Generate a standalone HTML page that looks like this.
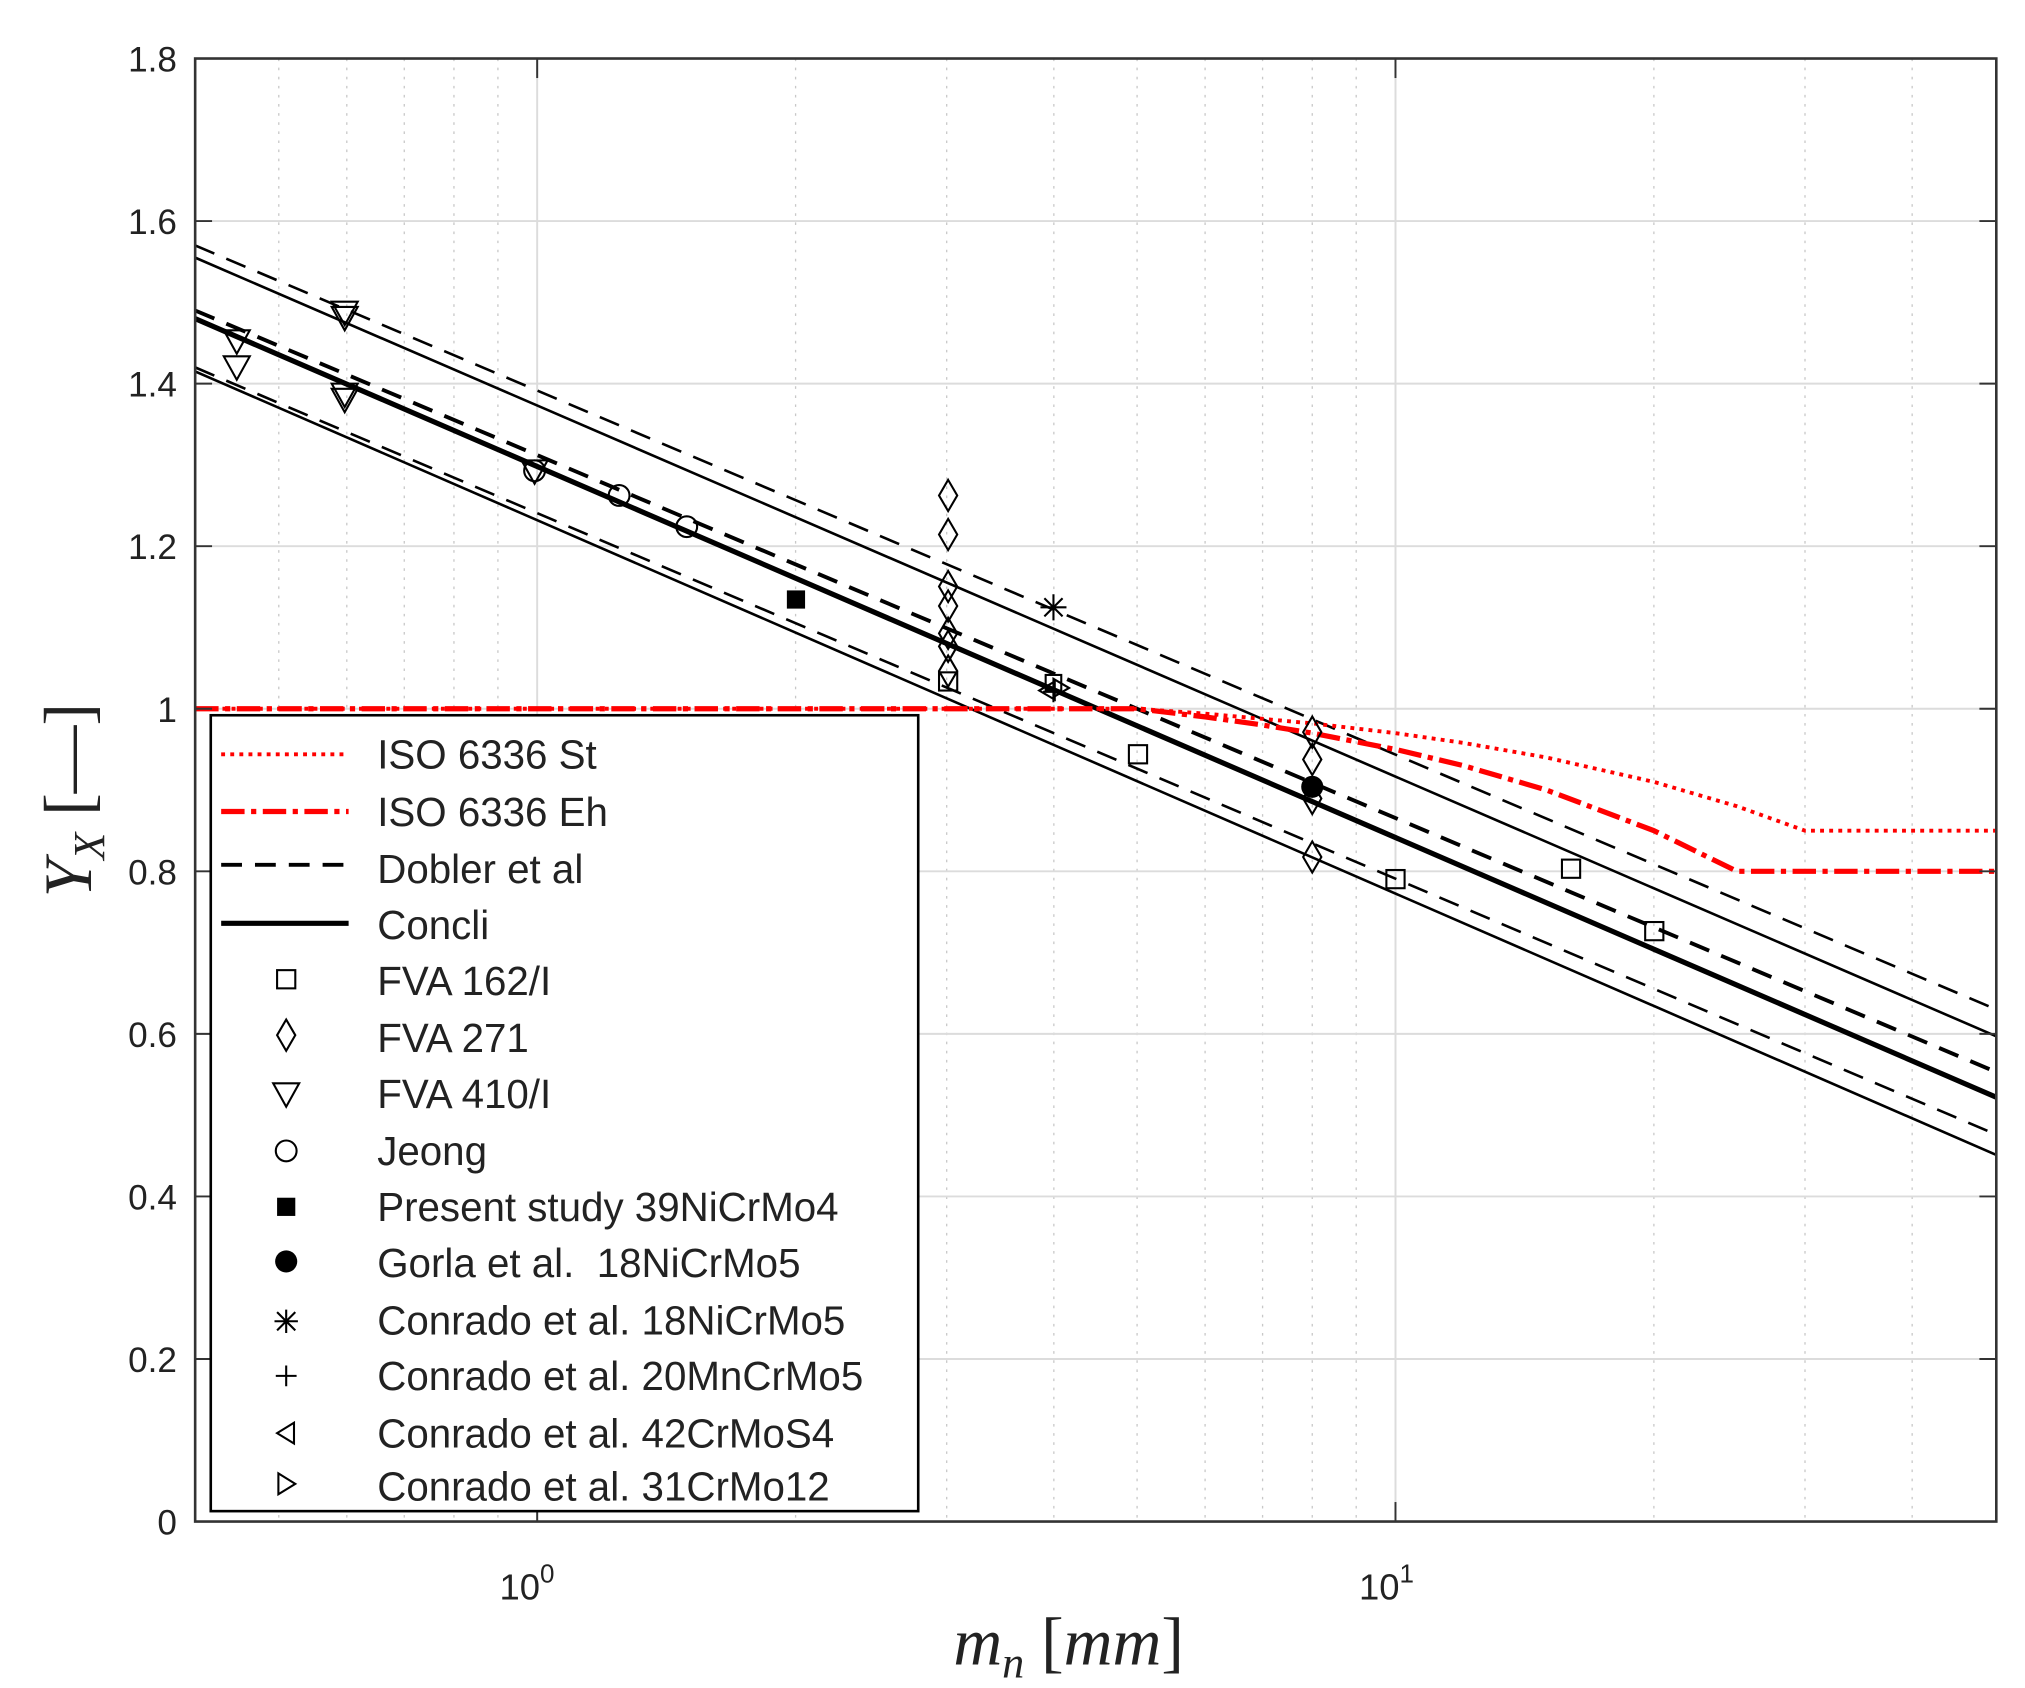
<!DOCTYPE html>
<html><head><meta charset="utf-8"><style>
html,body{margin:0;padding:0;background:#fff}
svg{display:block}
text{font-family:"Liberation Sans",sans-serif;fill:#222}
</style></head><body>
<svg width="2025" height="1688" viewBox="0 0 1557 1298" xmlns="http://www.w3.org/2000/svg">
<rect width="1557" height="1298" fill="#fff"/>
<g stroke="#c8c8c8" stroke-width="1" stroke-dasharray="2,5">
<line x1="214.3" y1="45" x2="214.3" y2="1170"/><line x1="266.6" y1="45" x2="266.6" y2="1170"/><line x1="310.8" y1="45" x2="310.8" y2="1170"/><line x1="349" y1="45" x2="349" y2="1170"/><line x1="382.8" y1="45" x2="382.8" y2="1170"/>
<line x1="611.7" y1="45" x2="611.7" y2="1170"/><line x1="727.9" y1="45" x2="727.9" y2="1170"/><line x1="810.3" y1="45" x2="810.3" y2="1170"/><line x1="874.3" y1="45" x2="874.3" y2="1170"/><line x1="926.6" y1="45" x2="926.6" y2="1170"/><line x1="970.8" y1="45" x2="970.8" y2="1170"/><line x1="1009" y1="45" x2="1009" y2="1170"/><line x1="1042.8" y1="45" x2="1042.8" y2="1170"/>
<line x1="1271.7" y1="45" x2="1271.7" y2="1170"/><line x1="1387.9" y1="45" x2="1387.9" y2="1170"/><line x1="1470.3" y1="45" x2="1470.3" y2="1170"/>
</g>
<g stroke="#dcdcdc" stroke-width="1.5">
<line x1="413" y1="45" x2="413" y2="1170"/><line x1="1073" y1="45" x2="1073" y2="1170"/>
<line x1="150" y1="1045" x2="1535" y2="1045"/><line x1="150" y1="920" x2="1535" y2="920"/><line x1="150" y1="795" x2="1535" y2="795"/><line x1="150" y1="670" x2="1535" y2="670"/><line x1="150" y1="545" x2="1535" y2="545"/><line x1="150" y1="420" x2="1535" y2="420"/><line x1="150" y1="295" x2="1535" y2="295"/><line x1="150" y1="170" x2="1535" y2="170"/>
</g>
<g stroke="#000" fill="none">
<line x1="150" y1="188.75" x2="1535" y2="776.25" stroke-width="2" stroke-dasharray="16,10"/>
<line x1="150" y1="198.1" x2="1535" y2="796.9" stroke-width="2"/>
<line x1="150" y1="238.75" x2="1535" y2="824.4" stroke-width="3" stroke-dasharray="16,10"/>
<line x1="150" y1="245" x2="1535" y2="843.75" stroke-width="4"/>
<line x1="150" y1="282.5" x2="1535" y2="872.5" stroke-width="2" stroke-dasharray="16,10"/>
<line x1="150" y1="285.6" x2="1535" y2="888.1" stroke-width="2"/>
</g>
<polyline fill="none" stroke="#f00" stroke-width="3" stroke-dasharray="3,4" points="150,545 874.3,545 926.6,548.75 1009,556.25 1073,563.75 1125.2,571.25 1189.2,582.5 1271.7,601.25 1335.6,620 1387.9,638.75 1535,638.75"/>
<polyline fill="none" stroke="#f00" stroke-width="4" stroke-dasharray="18,5,4,5" points="150,545 874.3,545 926.6,551.25 970.8,557.5 1009,563.75 1073,576.25 1125.2,588.75 1189.2,607.5 1271.7,638.75 1335.6,670 1535,670"/>
<g fill="none" stroke="#000" stroke-width="1.6">
<path d="M172,254 h20 l-10,18 z"/><path d="M172,274 h20 l-10,18 z"/>
<path d="M255,232 h20 l-10,18 z"/><path d="M255,236 h20 l-10,18 z"/>
<path d="M255,295 h20 l-10,18 z"/><path d="M255,299 h20 l-10,18 z"/>
<path d="M401,354 h20 l-10,18 z"/>
<circle cx="411" cy="362" r="8"/><circle cx="476" cy="381" r="8"/><circle cx="528" cy="405" r="8"/>
<path d="M729,369 l7,12 l-7,12 l-7,-12 z"/><path d="M729,399 l7,12 l-7,12 l-7,-12 z"/><path d="M729,439 l7,12 l-7,12 l-7,-12 z"/><path d="M729,454 l7,12 l-7,12 l-7,-12 z"/><path d="M729,475 l7,12 l-7,12 l-7,-12 z"/><path d="M729,485 l7,12 l-7,12 l-7,-12 z"/><path d="M729,504 l7,12 l-7,12 l-7,-12 z"/>
<path d="M1009,551 l7,12 l-7,12 l-7,-12 z"/><path d="M1009,572 l7,12 l-7,12 l-7,-12 z"/><path d="M1009,602 l7,12 l-7,12 l-7,-12 z"/><path d="M1009,647 l7,12 l-7,12 l-7,-12 z"/>
<rect x="722" y="517" width="14" height="14"/><rect x="868" y="573" width="14" height="14"/><rect x="1066" y="669" width="14" height="14"/><rect x="1201" y="661" width="14" height="14"/><rect x="1265" y="709" width="14" height="14"/>
<rect x="804" y="519" width="12" height="12"/>
<path d="M799,531 l12,-7 v14 z"/><path d="M822,529 l-12,-7 v14 z"/>
<path d="M810,524 v16 M802,532 h16"/>
<path d="M810,457 v20 M800,467 h20 M803,460 l14,14 M817,460 l-14,14"/>
</g>
<rect x="605" y="454" width="14" height="14" fill="#000"/>
<circle cx="1009" cy="605" r="8.5" fill="#000"/>
<rect x="150" y="45" width="1385" height="1125" fill="none" stroke="#333" stroke-width="2"/>
<g stroke="#333" stroke-width="1.5">
<line x1="150" y1="1045" x2="163" y2="1045"/><line x1="150" y1="920" x2="163" y2="920"/><line x1="150" y1="795" x2="163" y2="795"/><line x1="150" y1="670" x2="163" y2="670"/><line x1="150" y1="545" x2="163" y2="545"/><line x1="150" y1="420" x2="163" y2="420"/><line x1="150" y1="295" x2="163" y2="295"/><line x1="150" y1="170" x2="163" y2="170"/>
<line x1="1535" y1="1045" x2="1522" y2="1045"/><line x1="1535" y1="920" x2="1522" y2="920"/><line x1="1535" y1="795" x2="1522" y2="795"/><line x1="1535" y1="670" x2="1522" y2="670"/><line x1="1535" y1="545" x2="1522" y2="545"/><line x1="1535" y1="420" x2="1522" y2="420"/><line x1="1535" y1="295" x2="1522" y2="295"/><line x1="1535" y1="170" x2="1522" y2="170"/>
<line x1="413" y1="1170" x2="413" y2="1155"/><line x1="1073" y1="1170" x2="1073" y2="1155"/><line x1="413" y1="45" x2="413" y2="60"/><line x1="1073" y1="45" x2="1073" y2="60"/>
</g>
<g font-size="27" text-anchor="end" fill="#333">
<text x="136" y="1180">0</text><text x="136" y="1055">0.2</text><text x="136" y="930">0.4</text><text x="136" y="805">0.6</text><text x="136" y="680">0.8</text><text x="136" y="555">1</text><text x="136" y="430">1.2</text><text x="136" y="305">1.4</text><text x="136" y="180">1.6</text><text x="136" y="55">1.8</text>
</g>
<text x="384" y="1230" font-size="28">10<tspan dy="-13" font-size="20">0</tspan></text>
<text x="1045" y="1230" font-size="28">10<tspan dy="-13" font-size="20">1</tspan></text>
<text x="733" y="1280" font-size="52" font-style="italic" style="font-family:'Liberation Serif',serif">m<tspan font-size="34" dy="10">n</tspan><tspan dy="-10" font-style="normal"> [</tspan>mm<tspan font-style="normal">]</tspan></text>
<text transform="translate(70,690) rotate(-90)" font-size="52" font-style="italic" style="font-family:'Liberation Serif',serif">Y<tspan font-size="34" dy="10">X</tspan><tspan dy="-10" font-style="normal"> [—]</tspan></text>
<rect x="162" y="550" width="544" height="612" fill="#fff" stroke="#000" stroke-width="2"/>
<g stroke-width="3" fill="none">
<line x1="170" y1="580" x2="268" y2="580" stroke="#f00" stroke-dasharray="3,4"/>
<line x1="170" y1="624" x2="268" y2="624" stroke="#f00" stroke-width="4" stroke-dasharray="18,5,4,5"/>
<line x1="170" y1="665" x2="268" y2="665" stroke="#000" stroke-dasharray="16,10"/>
<line x1="170" y1="710" x2="268" y2="710" stroke="#000" stroke-width="4"/>
</g>
<g fill="none" stroke="#000" stroke-width="1.6">
<rect x="213" y="746" width="14" height="14"/>
<path d="M220,784 l7,12 l-7,12 l-7,-12 z"/>
<path d="M210,833 h20 l-10,18 z"/>
<circle cx="220" cy="885" r="8"/>
<path d="M220,1007 v18 M211,1016 h18 M213,1009 l14,14 M227,1009 l-14,14"/>
<path d="M220,1050 v16 M212,1058 h16"/>
<path d="M213,1102 l13,-8 v16 z"/>
<path d="M227,1141 l-13,-8 v16 z"/>
</g>
<rect x="213" y="921" width="14" height="14" fill="#000"/>
<circle cx="220" cy="970" r="8.5" fill="#000"/>
<g font-size="31">
<text x="290" y="591">ISO 6336 St</text>
<text x="290" y="635">ISO 6336 Eh</text>
<text x="290" y="679">Dobler et al</text>
<text x="290" y="722">Concli</text>
<text x="290" y="765">FVA 162/I</text>
<text x="290" y="809">FVA 271</text>
<text x="290" y="852">FVA 410/I</text>
<text x="290" y="896">Jeong</text>
<text x="290" y="939">Present study 39NiCrMo4</text>
<text x="290" y="982">Gorla et al.&#160;&#160;18NiCrMo5</text>
<text x="290" y="1026">Conrado et al. 18NiCrMo5</text>
<text x="290" y="1069">Conrado et al. 20MnCrMo5</text>
<text x="290" y="1113">Conrado et al. 42CrMoS4</text>
<text x="290" y="1154">Conrado et al. 31CrMo12</text>
</g>
</svg>
</body></html>
